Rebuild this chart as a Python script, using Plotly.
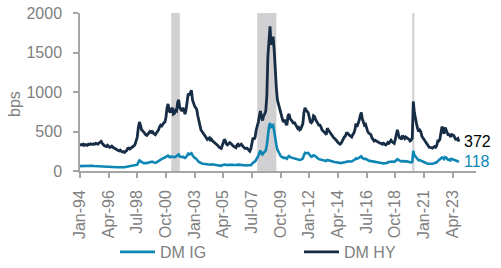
import pandas as pd
import plotly.graph_objects as go

dates = pd.date_range("1994-01-01", periods=358, freq="MS")

hy = [
320, 335, 330, 340, 325, 335, 330, 325, 340, 335, 345, 340,
335, 345, 340, 350, 345, 340, 355, 360, 375, 350, 330, 320,
315, 310, 325, 310, 300, 305, 315, 300, 290, 285, 275, 270,
260, 255, 265, 250, 240, 245, 235, 250, 260, 285, 290, 280,
290, 295, 300, 320, 340, 380, 430, 550, 620, 580, 520, 510,
490, 470, 460, 450, 470, 480, 500, 490, 510, 480, 470, 460,
480, 500, 520, 560, 580, 570, 600, 610, 620, 680, 800, 850,
760, 740, 780, 800, 720, 730, 770, 760, 870, 900, 800, 780,
760, 800, 740, 720, 780, 900, 980, 960, 1000, 1020, 900, 850,
820, 800, 780, 700, 640, 560, 520, 500, 480, 460, 430, 420,
400, 410, 420, 380, 400, 380, 370, 360, 350, 340, 320, 300,
290, 285, 320, 370, 400, 380, 340, 330, 340, 360, 350, 330,
320, 310, 300, 295, 330, 340, 320, 330, 340, 320, 300, 290,
285, 290, 280, 260, 250, 280, 380, 420, 400, 430, 520, 560,
620, 700, 760, 680, 640, 700, 720, 760, 950, 1450, 1700, 1830,
1600, 1650, 1700, 1520, 1250, 1050, 900, 850, 780, 720, 680, 640,
620, 650, 600, 580, 700, 720, 660, 650, 630, 600, 620, 590,
560, 540, 550, 520, 530, 560, 600, 740, 800, 770, 760, 740,
680, 620, 610, 630, 700, 690, 650, 620, 600, 580, 580, 560,
520, 510, 500, 480, 460, 540, 520, 500, 480, 450, 430, 420,
410, 400, 380, 360, 350, 340, 350, 380, 400, 430, 440, 480,
480, 460, 450, 440, 430, 460, 480, 520, 600, 560, 590, 640,
700, 740, 660, 600, 580, 590, 540, 500, 480, 470, 460, 420,
400, 380, 390, 380, 370, 370, 360, 350, 350, 340, 350, 340,
330, 340, 360, 350, 370, 390, 370, 360, 350, 400, 480, 520,
460, 420, 420, 400, 450, 420, 410, 430, 420, 420, 400, 380,
390, 420, 880, 740, 650, 600, 540, 500, 520, 500, 440, 420,
400, 380, 360, 340, 320, 300, 300, 290, 290, 300, 310, 300,
320, 380, 380, 400, 460, 560, 540, 470, 550, 520, 470, 450,
470, 430, 470, 450, 450, 420, 400, 400, 410, 372,
]

ig = [
62, 63, 65, 66, 64, 66, 67, 65, 66, 67, 70, 68,
66, 64, 63, 62, 60, 58, 57, 56, 55, 54, 55, 55,
54, 53, 52, 52, 51, 50, 50, 49, 48, 48, 47, 47,
47, 46, 47, 48, 47, 48, 49, 50, 52, 58, 62, 65,
66, 64, 66, 68, 70, 75, 80, 110, 135, 125, 110, 105,
100, 98, 95, 100, 105, 110, 115, 112, 118, 112, 105, 102,
110, 120, 130, 140, 150, 155, 160, 165, 170, 180, 190, 195,
180, 175, 185, 180, 170, 175, 180, 190, 200, 210, 185, 180,
175, 180, 170, 165, 175, 195, 220, 210, 215, 225, 200, 180,
165, 160, 150, 130, 115, 105, 100, 95, 92, 90, 85, 82,
80, 82, 84, 80, 85, 82, 80, 78, 76, 75, 72, 70,
68, 66, 72, 80, 82, 80, 76, 75, 78, 80, 82, 80,
78, 76, 74, 74, 78, 80, 78, 76, 75, 74, 72, 70,
70, 70, 72, 70, 68, 72, 90, 110, 115, 120, 145, 160,
190, 230, 260, 220, 210, 230, 250, 260, 330, 480, 560, 607,
560, 570, 580, 500, 400, 330, 270, 240, 210, 190, 180, 175,
165, 170, 160, 155, 180, 190, 175, 170, 165, 160, 165, 160,
150, 145, 145, 140, 142, 150, 160, 200, 230, 225, 232, 230,
210, 190, 180, 185, 200, 195, 180, 170, 160, 150, 145, 140,
135, 130, 132, 128, 125, 140, 135, 130, 128, 124, 120, 118,
115, 112, 108, 104, 100, 98, 100, 104, 108, 112, 115, 120,
125, 122, 120, 118, 120, 130, 135, 145, 160, 155, 160, 165,
175, 185, 165, 155, 150, 155, 145, 135, 130, 128, 125, 120,
118, 114, 112, 112, 108, 106, 104, 102, 100, 98, 97, 96,
94, 100, 110, 112, 118, 125, 120, 118, 115, 125, 140, 150,
140, 128, 125, 120, 128, 122, 118, 125, 120, 118, 112, 108,
108, 115, 255, 200, 180, 165, 145, 135, 138, 132, 118, 110,
105, 100, 98, 95, 92, 90, 90, 90, 92, 95, 100, 100,
110, 125, 135, 140, 155, 170, 165, 150, 175, 170, 150, 140,
145, 135, 155, 150, 148, 140, 130, 125, 128, 118,
]

recessions = [("2001-03-01", "2001-11-01"), ("2007-12-01", "2009-06-01"), ("2020-02-01", "2020-04-01")]
tick_dates = list(dates[::27])
tick_text = [d.strftime("%b-%y") for d in tick_dates]

IG_COLOR = "#0E86B4"
HY_COLOR = "#172D45"
GRAY = "#808080"
FONT = "Liberation Sans, Arial, sans-serif"
FS = 16

fig = go.Figure()
fig.add_trace(go.Scatter(x=dates, y=ig, mode="lines", name="DM IG",
                         line=dict(color=IG_COLOR, width=2.6)))
fig.add_trace(go.Scatter(x=dates, y=hy, mode="lines", name="DM HY",
                         line=dict(color=HY_COLOR, width=2.8)))

for a, b in recessions:
    fig.add_vrect(x0=a, x1=b, fillcolor="#D0D0D3", line_width=0, layer="below", opacity=1)

fig.add_annotation(x="2023-12-15", y=hy[-1], text=str(hy[-1]), showarrow=False,
                   xanchor="left", yanchor="middle", font=dict(color="#000000", size=FS, family=FONT))
fig.add_annotation(x="2023-12-15", y=ig[-1], text=str(ig[-1]), showarrow=False,
                   xanchor="left", yanchor="middle", font=dict(color=IG_COLOR, size=FS, family=FONT))
# y-axis title placed like the reference (slightly below centre)
fig.add_annotation(xref="paper", yref="paper", x=(14 - 80) / 396, y=(171 - 104) / 158,
                   text="bps", textangle=-90, showarrow=False, xanchor="center", yanchor="middle",
                   font=dict(color=GRAY, size=FS, family=FONT))

fig.update_layout(
    width=501, height=268,
    margin=dict(l=80, r=25, t=13, b=97, autoexpand=False),
    paper_bgcolor="white", plot_bgcolor="white",
    font=dict(family=FONT, size=FS, color=GRAY),
    showlegend=True,
    legend=dict(orientation="h", xref="container", yref="container",
                x=115 / 501, y=16 / 268, xanchor="left", yanchor="middle",
                itemwidth=35, entrywidth=134, entrywidthmode="pixels",
                font=dict(size=FS, color=GRAY), bgcolor="rgba(0,0,0,0)"),
)
fig.update_xaxes(
    type="date", range=["1994-01-01", "2025-02-01"],
    tickvals=tick_dates, ticktext=tick_text, tickangle=-90,
    showgrid=False, zeroline=False, showline=True, linecolor="#A6A6A6", linewidth=1.5,
    ticks="outside", ticklen=5, tickcolor="#A6A6A6", tickwidth=1.5,
    tickfont=dict(size=FS, color=GRAY), ticklabelstandoff=6,
)
fig.update_yaxes(
    range=[0, 2000], tickvals=[0, 500, 1000, 1500, 2000],
    showgrid=False, zeroline=False, showline=True, linecolor="#A6A6A6", linewidth=1.5,
    ticks="outside", ticklen=5, tickcolor="#A6A6A6", tickwidth=1.5,
    tickfont=dict(size=FS, color=GRAY), ticklabelstandoff=8,
)

fig.write_html("out.html")
